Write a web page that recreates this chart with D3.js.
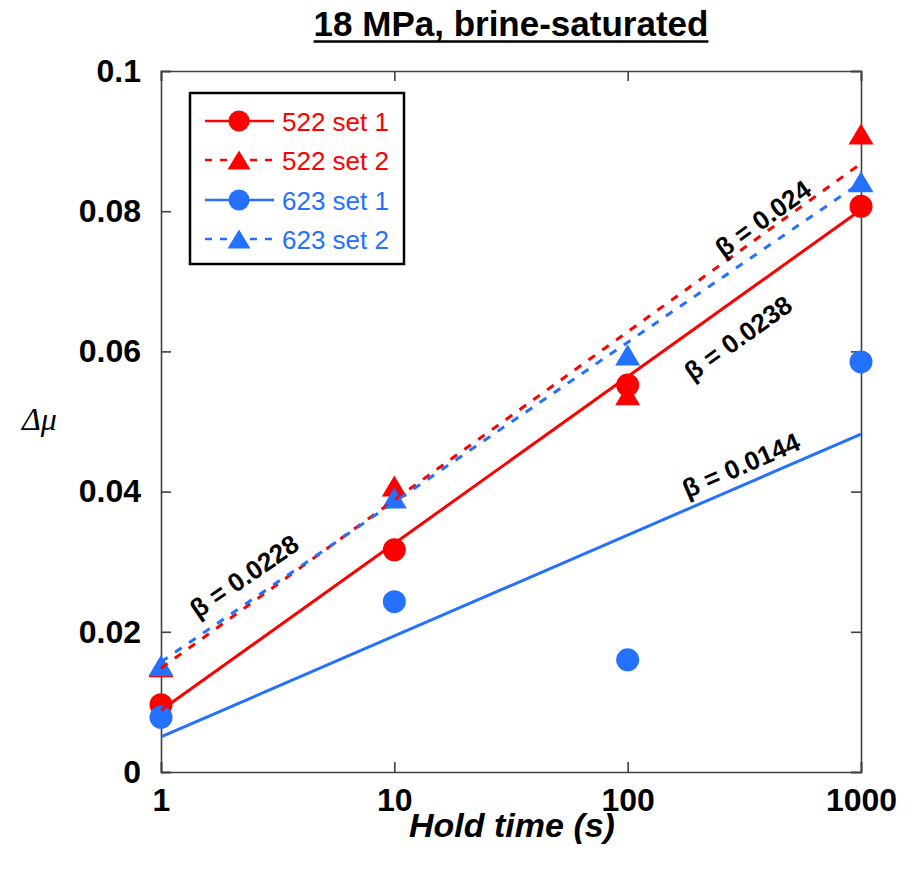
<!DOCTYPE html>
<html>
<head>
<meta charset="utf-8">
<script src="https://cdn.jsdelivr.net/npm/d3@7"></script>
<style>
  html, body { margin: 0; padding: 0; background: #fff; }
  svg { display: block; font-family: "Liberation Sans", Arial, sans-serif; }
</style>
</head>
<body>
<svg id="chart" width="920" height="872"></svg>
<script>
// ---------------- data ----------------
const holdTimes = [1, 10, 100, 1000];
const xTickLabels = ["1", "10", "100", "1000"];
const yTicks = [0, 0.02, 0.04, 0.06, 0.08, 0.1];
const yTickLabels = ["0", "0.02", "0.04", "0.06", "0.08", "0.1"];

const seriesNames = ["522 set 1", "522 set 2", "623 set 1", "623 set 2"];
const s522set1 = [0.0096, 0.0317, 0.0552, 0.0807];
const s522set2 = [0.0150, 0.0408, 0.0538, 0.0910];
const s623set1 = [0.0078, 0.0243, 0.0160, 0.0585];
const s623set2 = [0.0152, 0.0391, 0.0595, 0.0842];

// log-linear fits: mu = a + beta * log10(t)
const fitIntercepts = [0.0088, 0.0148, 0.0050, 0.0157];
const fitBetas = [0.0238, 0.024, 0.0144, 0.0228];
const betaLabels = ["β = 0.0238", "β = 0.024", "β = 0.0144", "β = 0.0228"];
const betaLabelAt = [297, 380, 306, 2.27];     // hold time where label sits
const betaLabelRaise = [-40, 16, 21, 29];      // vertical offset from line (px), + = above

const titleText = "18 MPa, brine-saturated";
const xLabel = "Hold time (s)";
const yLabel = "Δμ";

// ---------------- styles ----------------
const RED = "#ff0000", BLUE = "#2470ff";
const seriesColors = [RED, RED, BLUE, BLUE];
const seriesShapes = ["circle", "triangle", "circle", "triangle"];
const seriesDashed = [false, true, false, true];
const seriesValues = [s522set1, s522set2, s623set1, s623set2];

const svg = d3.select("#chart");
const L = 161, R = 861, T = 71, B = 772;

const x = d3.scaleLog().domain([1, 1000]).range([L, R]);
const y = d3.scaleLinear().domain([0, 0.1]).range([B, T]);

// title
const title = svg.append("text")
  .attr("x", 511).attr("y", 36)
  .attr("text-anchor", "middle")
  .attr("font-size", 35).attr("font-weight", "bold")
  .text(titleText);
const tb = title.node().getBBox();
svg.append("line")
  .attr("x1", tb.x).attr("x2", tb.x + tb.width)
  .attr("y1", 41.5).attr("y2", 41.5)
  .attr("stroke", "#000").attr("stroke-width", 2.5);

// axes
const axisColor = "#404040";
const gL = svg.append("g").attr("transform", `translate(${L},0)`)
  .call(d3.axisLeft(y).tickValues(yTicks).tickSize(-10).tickPadding(20)
    .tickFormat((d, i) => yTickLabels[i]));
const gR = svg.append("g").attr("transform", `translate(${R},0)`)
  .call(d3.axisRight(y).tickValues(yTicks).tickSize(-10).tickFormat(""));
const gB = svg.append("g").attr("transform", `translate(0,${B})`)
  .call(d3.axisBottom(x).tickValues(holdTimes).tickSize(-10).tickPadding(16)
    .tickFormat((d, i) => xTickLabels[i]));
const gT = svg.append("g").attr("transform", `translate(0,${T})`)
  .call(d3.axisTop(x).tickValues(holdTimes).tickSize(-10).tickFormat(""));
[gL, gR, gB, gT].forEach(g => {
  g.select(".domain").attr("stroke", axisColor).attr("stroke-width", 1.6);
  g.selectAll(".tick line").attr("stroke", axisColor).attr("stroke-width", 1.6);
  g.selectAll(".tick text").attr("fill", "#000").attr("font-size", 32)
    .attr("font-weight", "bold").attr("font-family", "'Liberation Sans', Arial, sans-serif");
});

// axis labels
svg.append("text").attr("x", 512).attr("y", 837).attr("text-anchor", "middle")
  .attr("font-size", 34).attr("font-weight", "bold").attr("font-style", "italic")
  .text(xLabel);
svg.append("text").attr("x", 22).attr("y", 430)
  .attr("font-family", "'Liberation Serif', 'Times New Roman', serif")
  .attr("font-size", 32).attr("font-style", "italic")
  .text(yLabel);

// markers
function triPath(w, h) {
  return `M0,${-h / 2}L${w / 2},${h / 2}L${-w / 2},${h / 2}Z`;
}
function drawMarker(g, shape, color, cx, cy, big) {
  if (shape === "circle") {
    g.append("circle").attr("cx", cx).attr("cy", cy).attr("r", big ? 11.5 : 10.5).attr("fill", color);
  } else {
    g.append("path").attr("d", big ? triPath(25, 21) : triPath(23, 19))
      .attr("transform", `translate(${cx},${cy})`).attr("fill", color);
  }
}
const gm = svg.append("g");
seriesValues.forEach((vals, si) => {
  vals.forEach((v, i) => drawMarker(gm, seriesShapes[si], seriesColors[si], x(holdTimes[i]), y(v), true));
});

// fit lines
const line = d3.line().x(d => x(d[0])).y(d => y(d[1]));
const gf = svg.append("g");
fitIntercepts.forEach((a, si) => {
  const pts = [1, 1000].map(t => [t, a + fitBetas[si] * Math.log10(t)]);
  gf.append("path").attr("d", line(pts))
    .attr("fill", "none").attr("stroke", seriesColors[si])
    .attr("stroke-width", 3)
    .attr("stroke-dasharray", seriesDashed[si] ? "8,9" : null);
});

// beta labels
betaLabels.forEach((lab, si) => {
  const a = fitIntercepts[si], b = fitBetas[si];
  const t = betaLabelAt[si];
  const px = x(t), py = y(a + b * Math.log10(t));
  const px2 = x(t * 10), py2 = y(a + b * Math.log10(t * 10));
  const ang = Math.atan2(py2 - py, px2 - px);
  const cx = px, cy = py - betaLabelRaise[si];
  svg.append("text")
    .attr("transform", `translate(${cx},${cy}) rotate(${ang * 180 / Math.PI})`)
    .attr("text-anchor", "middle").attr("dy", "0.36em")
    .attr("font-size", 26).attr("font-weight", "bold")
    .text(lab);
});

// legend
const lg = svg.append("g");
lg.append("rect").attr("x", 190).attr("y", 93).attr("width", 214).attr("height", 171)
  .attr("fill", "#fff").attr("stroke", "#000").attr("stroke-width", 2.5);
const legendY = [121, 160, 200, 239];
seriesNames.forEach((name, si) => {
  const ly = legendY[si];
  lg.append("line").attr("x1", 205).attr("x2", 274).attr("y1", ly).attr("y2", ly)
    .attr("stroke", seriesColors[si]).attr("stroke-width", 2.5)
    .attr("stroke-dasharray", seriesDashed[si] ? "7,8" : null);
  drawMarker(lg, seriesShapes[si], seriesColors[si], 239, ly, false);
  lg.append("text").attr("x", 282).attr("y", ly + 9.5)
    .attr("font-size", 26).attr("fill", seriesColors[si]).text(name);
});
</script>
</body>
</html>
